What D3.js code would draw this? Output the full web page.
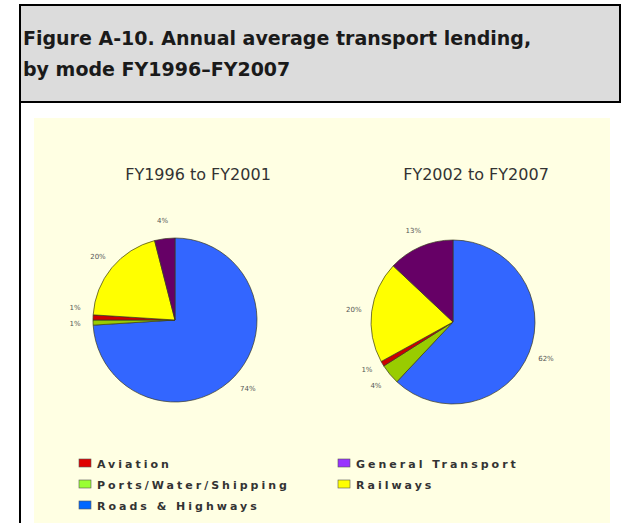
<!doctype html>
<html>
<head>
<meta charset="utf-8">
<script src="https://d3js.org/d3.v7.min.js"></script>
<style>
  body { margin: 0; background: #fff; }
  svg { display: block; }
</style>
</head>
<body>
<script>
// data
var modes = ["Roads & Highways", "Ports/Water/Shipping", "Aviation", "Railways", "General Transport"];
var periods = ["FY1996 to FY2001", "FY2002 to FY2007"];
var share9601 = [74, 1, 1, 20, 4];
var share0207 = [62, 4, 1, 20, 13];
var legendOrder = ["Aviation", "General Transport", "Ports/Water/Shipping", "Railways", "Roads & Highways"];

var pieColors = ["#3366ff", "#99cc00", "#cc0000", "#ffff00", "#660066"];
var keyColors = ["#0066ff", "#99ff33", "#e00000", "#ffff00", "#9933ff"];

var W = 621, H = 523;

var svg = d3.select("body").append("svg")
    .attr("width", W)
    .attr("height", H);

// title box
svg.append("rect")
    .attr("x", 20).attr("y", 5)
    .attr("width", 600).attr("height", 97)
    .attr("fill", "#dcdcdc")
    .attr("stroke", "#000")
    .attr("stroke-width", 2);
svg.append("line")
    .attr("x1", 20).attr("x2", 20)
    .attr("y1", 100).attr("y2", H)
    .attr("stroke", "#000")
    .attr("stroke-width", 2);

var title = svg.append("text")
    .attr("font-family", "'DejaVu Sans', Verdana, sans-serif")
    .attr("font-weight", "bold")
    .attr("font-size", "19px")
    .attr("fill", "#1a1a1a");
title.append("tspan").attr("x", 23).attr("y", 45).text("Figure A-10. Annual average transport lending,");
title.append("tspan").attr("x", 23).attr("y", 76).text("by mode FY1996\u2013FY2007");

// chart panel
svg.append("rect")
    .attr("x", 34).attr("y", 118)
    .attr("width", 576).attr("height", H - 118)
    .attr("fill", "#ffffe3");

var pie = d3.pie().sort(null).value(function(d) { return d; });

var pies = [
    {title: periods[0], values: share9601, cx: 175, cy: 320, r: 82},
    {title: periods[1], values: share0207, cx: 453, cy: 322, r: 82}
];

pies.forEach(function(p) {
    var g = svg.append("g")
        .attr("transform", "translate(" + p.cx + "," + p.cy + ")");

    var arc = d3.arc().innerRadius(0).outerRadius(p.r);
    var labelArc = d3.arc().innerRadius(p.r + 18).outerRadius(p.r + 18);
    var arcs = pie(p.values);

    g.selectAll("path")
        .data(arcs)
        .enter().append("path")
        .attr("d", arc)
        .attr("fill", function(d, i) { return pieColors[i]; })
        .attr("stroke", "#3a3a20")
        .attr("stroke-width", 0.7);

    // label positions, nudging crowded ones apart
    var labels = arcs.map(function(d) {
        var c = labelArc.centroid(d);
        return {x: c[0], y: c[1], v: d.data};
    });
    var left = labels.filter(function(l) { return l.x < 0; })
        .sort(function(a, b) { return b.y - a.y; });
    for (var i = 1; i < left.length; i++) {
        if (left[i - 1].y - left[i].y < 14) left[i].y = left[i - 1].y - 16;
    }

    g.selectAll("text.pct")
        .data(labels)
        .enter().append("text")
        .attr("class", "pct")
        .attr("x", function(d) { return d.x; })
        .attr("y", function(d) { return d.y; })
        .attr("dy", "0.35em")
        .attr("text-anchor", "middle")
        .attr("font-family", "'DejaVu Sans', sans-serif")
        .attr("font-size", "7px")
        .attr("fill", "#555")
        .text(function(d) { return d.v + "%"; });

    svg.append("text")
        .attr("x", p.cx + 23)
        .attr("y", 180)
        .attr("text-anchor", "middle")
        .attr("font-family", "'DejaVu Sans', sans-serif")
        .attr("font-size", "16px")
        .attr("fill", "#333")
        .text(p.title);
});

// legend
var legend = svg.append("g");
var item = legend.selectAll("g")
    .data(legendOrder)
    .enter().append("g")
    .attr("transform", function(d, i) {
        var col = i < 4 ? i % 2 : 0;
        var row = i < 4 ? Math.floor(i / 2) : 2;
        return "translate(" + (79 + col * 259) + "," + (459 + row * 21) + ")";
    });

item.append("rect")
    .attr("width", 12).attr("height", 8)
    .attr("fill", function(d) { return keyColors[modes.indexOf(d)]; })
    .attr("stroke", "#555")
    .attr("stroke-width", 0.6);

item.append("text")
    .attr("x", 18)
    .attr("y", 9)
    .attr("font-family", "'DejaVu Sans', sans-serif")
    .attr("font-weight", "bold")
    .attr("font-size", "11px")
    .attr("letter-spacing", "3px")
    .attr("fill", "#333")
    .text(function(d) { return d; });
</script>
</body>
</html>
